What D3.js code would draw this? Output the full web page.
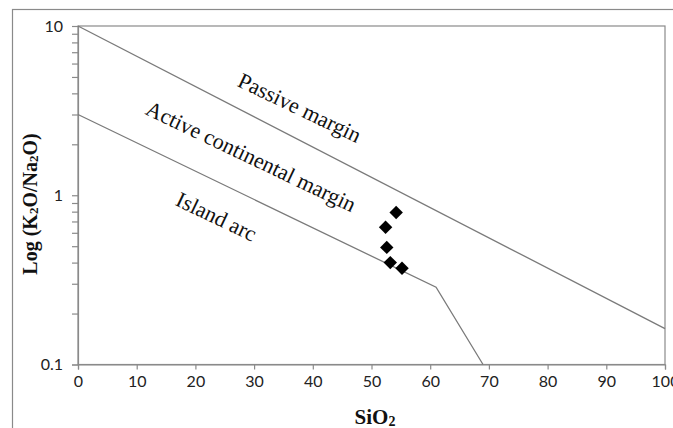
<!DOCTYPE html>
<html>
<head>
<meta charset="utf-8">
<script src="https://cdn.jsdelivr.net/npm/d3@7"></script>
<style>
  html, body { margin: 0; padding: 0; background: #fff; }
  svg { display: block; }
</style>
</head>
<body>
<svg id="chart" width="673" height="428"></svg>
<script>
// ---- data ----
const xTickValues = [0, 10, 20, 30, 40, 50, 60, 70, 80, 90, 100];
const yTickLabels = [0.1, 1, 10];
const passiveBoundarySiO2 = [0, 100];
const passiveBoundaryRatio = [10, 0.163];
const arcBoundarySiO2 = [0, 61, 69];
const arcBoundaryRatio = [3, 0.286, 0.1];
const sampleSiO2 = [54.2, 52.4, 52.6, 53.2, 55.2];
const sampleRatio = [0.79, 0.647, 0.492, 0.40, 0.37];
const fieldNames = ["Passive margin", "Active continental margin", "Island arc"];
const fieldSiO2 = [37.8, 29.5, 23.6];
const fieldRatio = [3.3, 1.7, 0.75];

// ---- layout ----
const svg = d3.select("#chart");
const L = 78, T = 26, R = 665, B = 364.5;
const x = d3.scaleLinear().domain([0, 100]).range([L, R]);
const y = d3.scaleLog().domain([0.1, 10]).range([B, T]);
const gray = "#8a8a8a";
const tickFont = "Lato, 'Open Sans', sans-serif";
const serif = "'Liberation Serif', 'Times New Roman', serif";

// outer frame
svg.append("rect").attr("x", 12.5).attr("y", 9.5).attr("width", 700).attr("height", 500)
  .attr("fill", "none").attr("stroke", gray).attr("stroke-width", 1.2);

// plot border
svg.append("rect").attr("x", L).attr("y", T).attr("width", R - L).attr("height", B - T)
  .attr("fill", "none").attr("stroke", gray).attr("stroke-width", 1.2);

// x axis
const xAxis = d3.axisBottom(x).tickValues(xTickValues).tickSize(5).tickPadding(6)
  .tickFormat(d3.format("d"));
const gx = svg.append("g").attr("transform", `translate(0,${B})`).call(xAxis);
gx.select(".domain").attr("stroke", gray).attr("stroke-width", 1.2);
gx.selectAll(".tick line").attr("stroke", gray).attr("stroke-width", 1.2);
gx.selectAll(".tick text").attr("fill", "#222").style("font-family", tickFont).style("font-size", "16px");

// y axis (log) with minor ticks
const minorTicks = y.ticks();
const yAxis = d3.axisLeft(y).tickValues(minorTicks).tickSize(6).tickPadding(9)
  .tickFormat(d => yTickLabels.includes(d) ? String(d) : "");
const gy = svg.append("g").attr("transform", `translate(${L},0)`).call(yAxis);
gy.select(".domain").attr("stroke", gray).attr("stroke-width", 1.2);
gy.selectAll(".tick line").attr("stroke", gray).attr("stroke-width", 1.2);
gy.selectAll(".tick text").attr("fill", "#222").style("font-family", tickFont).style("font-size", "16px");

// boundary lines
const line = d3.line().x(d => x(d[0])).y(d => y(d[1]));
svg.append("path")
  .attr("d", line(d3.zip(passiveBoundarySiO2, passiveBoundaryRatio)))
  .attr("fill", "none").attr("stroke", "#7a7a7a").attr("stroke-width", 1.3);
svg.append("path")
  .attr("d", line(d3.zip(arcBoundarySiO2, arcBoundaryRatio)))
  .attr("fill", "none").attr("stroke", "#7a7a7a").attr("stroke-width", 1.3);

// field labels
const angle = 25.5;
svg.append("g").selectAll("text").data(fieldNames).join("text")
  .attr("transform", (d, i) => `translate(${x(fieldSiO2[i])},${y(fieldRatio[i])}) rotate(${angle})`)
  .attr("text-anchor", "middle").attr("dy", "0.35em")
  .style("font-family", serif)
  .style("font-size", "22px").attr("fill", "#111")
  .text(d => d);

// samples (diamonds)
const diamond = d3.symbol().type(d3.symbolSquare).size(90);
svg.append("g").selectAll("path").data(d3.zip(sampleSiO2, sampleRatio)).join("path")
  .attr("d", diamond)
  .attr("transform", d => `translate(${x(d[0])},${y(d[1])}) rotate(45)`)
  .attr("fill", "#000");

// axis titles
const xt = svg.append("text").attr("x", 375).attr("y", 424)
  .attr("text-anchor", "middle")
  .style("font-family", serif)
  .style("font-size", "21px").style("font-weight", "bold").attr("fill", "#111");
xt.append("tspan").text("SiO");
xt.append("tspan").text("2").style("font-size", "14px").attr("dy", "2");

const yt = svg.append("text")
  .attr("transform", `translate(37,204) rotate(-90)`)
  .attr("text-anchor", "middle")
  .style("font-family", serif)
  .style("font-size", "20px").style("font-weight", "bold").attr("fill", "#111");
yt.append("tspan").text("Log (K");
yt.append("tspan").text("2").style("font-size", "13px").attr("dy", "1");
yt.append("tspan").text("O/Na").attr("dy", "-1");
yt.append("tspan").text("2").style("font-size", "13px").attr("dy", "1");
yt.append("tspan").text("O)").attr("dy", "-1");
</script>
</body>
</html>
